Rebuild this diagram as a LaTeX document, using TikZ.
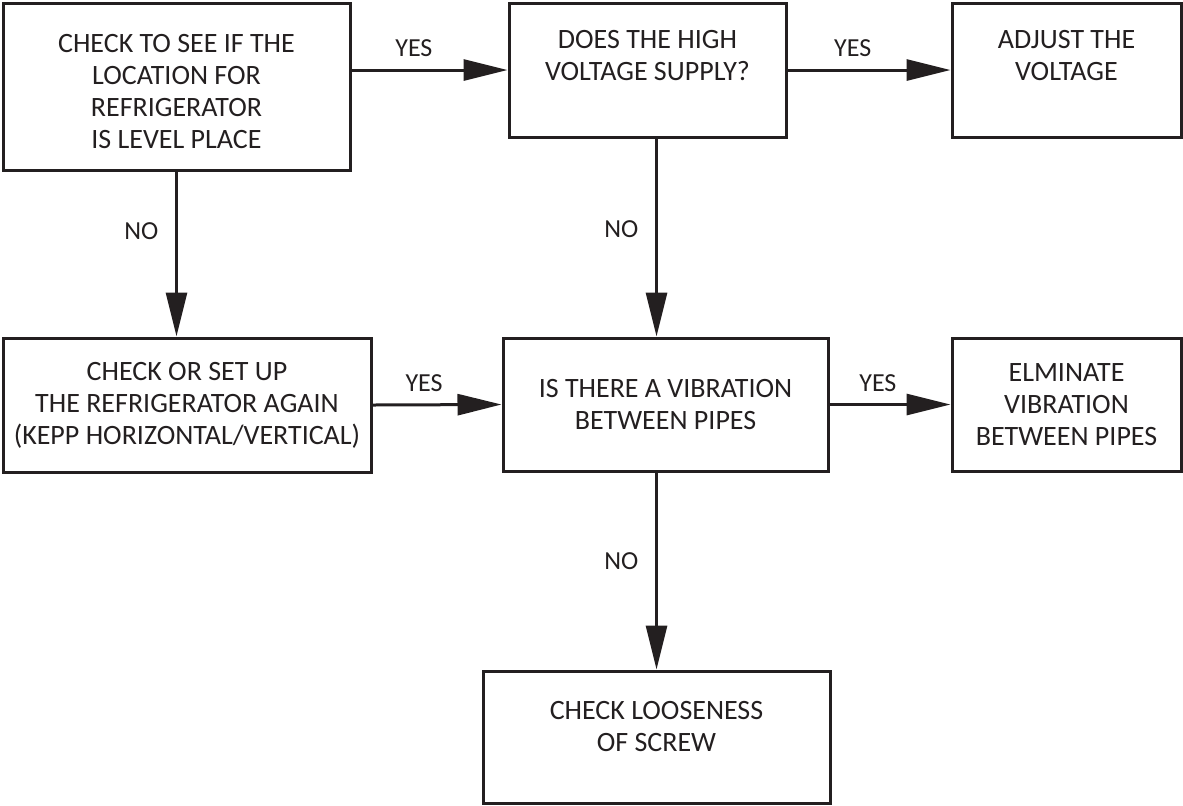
\documentclass[tikz,border=0pt]{standalone}
\usepackage{fontspec}
\setmainfont{Carlito}
\usepackage{tikz}
\usetikzlibrary{arrows.meta,positioning,calc}

\definecolor{ink}{RGB}{35,31,32}

\begin{document}
\begin{tikzpicture}[x=0.5pt,y=-0.5pt,
		box/.style = {draw=ink, line width=1.5pt, rectangle, inner sep=0pt},
		txt/.style = {align=center, text=ink, font=\fontsize{14}{16}\selectfont},
		arr/.style = {draw=ink, line width=1.5pt, -{Triangle[length=22pt,width=10.5pt]}},
		lbl/.style = {text=ink, font=\fontsize{13}{15}\selectfont}]
		\useasboundingbox (0,0) rectangle (1183,805);
		
		\node[box, minimum width=173.5pt, minimum height=83.5pt,
			label={[txt,yshift=-2.75pt]center:{CHECK TO SEE IF THE\\LOCATION FOR\\REFRIGERATOR\\IS LEVEL PLACE}}] (check) at (176.5,86.5) {};
		\node[box, minimum width=138.5pt, minimum height=67pt,
			label={[txt,yshift=7pt]center:{DOES THE HIGH\\VOLTAGE SUPPLY?}}] (volt) at (647.5,70) {};
		\node[box, minimum width=114.5pt, minimum height=67pt,
			label={[txt,yshift=7pt]center:{ADJUST THE\\VOLTAGE}}] (adjust) at (1066.5,70) {};
		\node[box, minimum width=184pt, minimum height=67pt,
			label={[txt]center:{CHECK OR SET UP\\THE REFRIGERATOR AGAIN\\(KEPP HORIZONTAL/VERTICAL)}}] (setup) at (187,405) {};
		\node[box, minimum width=162.5pt, minimum height=66.5pt,
			label={[txt]center:{IS THERE A VIBRATION\\BETWEEN PIPES}}] (vib) at (665.5,404.5) {};
		\node[box, minimum width=114.5pt, minimum height=66.5pt,
			label={[txt]center:{ELMINATE\\VIBRATION\\BETWEEN PIPES}}] (elim) at (1066.5,404.5) {};
		\node[box, minimum width=173.5pt, minimum height=66pt,
			label={[txt,yshift=5.5pt]center:{CHECK LOOSENESS\\OF SCREW}}] (screw) at (656.5,737) {};
		
		% yes branches
		\draw[arr] (check.east |- volt.west) -- node[lbl, pos=0.4, above=2.5pt]{YES} (volt.west);
		\draw[arr] (volt.east) -- node[lbl, pos=0.4, above=2.5pt]{YES} (adjust.west);
		\draw[arr] (setup.east) -- node[lbl, pos=0.4, above=2.5pt]{YES} (vib.west);
		\draw[arr] (vib.east) -- node[lbl, pos=0.4, above=2.5pt]{YES} (elim.west);
		
		% no branches
		\draw[arr] (check.south) -- node[lbl, pos=0.36, left=5pt]{NO} (check.south |- setup.north);
		\draw[arr] (volt.south -| screw.north) -- node[lbl, pos=0.46, left=5pt]{NO} (vib.north -| screw.north);
		\draw[arr] (vib.south -| screw.north) -- node[lbl, pos=0.45, left=5pt]{NO} (screw.north);
	\end{tikzpicture}
\end{document}
